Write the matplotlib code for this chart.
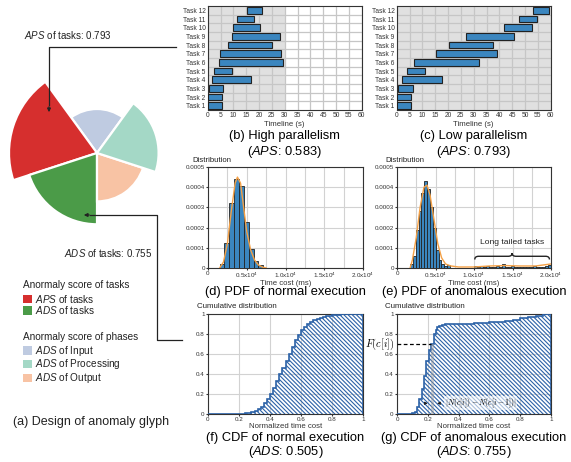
import numpy as np
import matplotlib
matplotlib.use('Agg')
import matplotlib.pyplot as plt
from matplotlib.patches import Wedge, Rectangle, PathPatch
from matplotlib.path import Path

plt.rcParams['font.family'] = ['Liberation Sans', 'DejaVu Sans']
plt.rcParams['mathtext.fontset'] = 'custom'
plt.rcParams['mathtext.rm'] = 'Liberation Sans'
plt.rcParams['mathtext.it'] = 'Liberation Sans:italic'
plt.rcParams['hatch.linewidth'] = 0.8

W, H = 571, 462

# anomaly glyph, sectors counter-clockwise starting at the top-right
glyph_parts = ['Input', 'APS of tasks', 'ADS of tasks', 'Output', 'Processing']
glyph_scores = [0.50, 1.00, 0.81, 0.55, 0.70]
glyph_colors = ['#bfcbe1', '#d62f2e', '#4b9b48', '#f8c3a4', '#a4d8c6']

# gantt charts
tasks = ['Task %d' % i for i in range(1, 13)]
high_start = [0, 0, 0.6, 1.7, 2.6, 4.5, 4.9, 7.8, 9.4, 10.0, 11.6, 15.2]
high_end = [5.5, 5.5, 6.1, 17.0, 9.5, 29.5, 28.7, 24.9, 28.3, 20.5, 17.9, 21.3]
low_start = [0, 0, 0.6, 2.2, 4.0, 6.9, 15.5, 20.3, 27.0, 41.9, 47.8, 53.2]
low_end = [5.6, 5.6, 6.2, 17.5, 11.2, 31.9, 39.1, 37.7, 45.8, 52.6, 54.5, 59.5]

# pdf histograms (ms, density)
norm_edges = [1500, 2125, 2750, 3375, 4000, 4625, 5250, 5875, 6500, 7125]
norm_hist = [0.00002, 0.000125, 0.00032, 0.00044, 0.000405, 0.00023, 0.000095, 0.000035, 0.000017]
norm_kde_x = [1500, 2000, 2500, 3000, 3500, 3800, 4200, 4600, 5000, 5500, 6000, 6500, 7000, 7500]
norm_kde_y = [0, 0.00003, 0.00012, 0.00028, 0.00042, 0.00045, 0.00042, 0.0003, 0.00018, 0.00009,
              0.00004, 0.000015, 0.000005, 0]

anom_edges = [1700, 2070, 2440, 2810, 3180, 3550, 3920, 4290, 4660, 5030, 5400, 5770, 6140, 6510, 6880]
anom_hist = [0.00002, 0.00006, 0.00019, 0.00028, 0.00037, 0.00043, 0.00039, 0.0003, 0.0002, 0.00009,
             0.00004, 0.00002, 0.000008, 0.000015]
tail_edges = [10000, 10400, 10800, 11200, 11600, 12000, 12400, 12800, 13200, 13600, 14000, 14400, 14800,
              15200, 15600, 16000, 16400, 16800, 17200, 17600, 18000, 18400, 18800, 19200, 19600, 20000]
tail_hist = [0.000008, 0.000006, 0.00001, 0.000005, 0.000008, 0.000004, 0.000006, 0.000009, 0.000005,
             0.000018, 0.000007, 0.000005, 0.000008, 0.000006, 0.000004, 0.000007, 0.000005, 0.000006,
             0.000004, 0.000008, 0.000006, 0.000005, 0.000007, 0.00001, 0.000015]
anom_kde_x = [1700, 2000, 2500, 3000, 3500, 3900, 4300, 4800, 5300, 5800, 6300, 7000, 8000, 10000,
              12000, 14000, 16000, 18000, 20000]
anom_kde_y = [0, 0.00004, 0.00015, 0.0003, 0.0004, 0.00041, 0.00036, 0.00024, 0.00012, 0.00005,
              0.00002, 0.00001, 0.000005, 0.000005, 0.00001, 0.000012, 0.00001, 0.00001, 0.00002]

# cdf steps (normalized time cost, cumulative share)
norm_cdf_edges = [0.0, 0.20, 0.22, 0.24, 0.26, 0.28, 0.30, 0.32, 0.34, 0.36, 0.38, 0.40, 0.42, 0.44,
                  0.46, 0.48, 0.50, 0.52, 0.54, 0.56, 0.58, 0.60, 0.62, 0.64, 0.66, 0.68, 0.70, 0.72,
                  0.74, 0.76, 0.78, 0.80, 0.82, 0.84, 0.86, 0.88, 0.90, 0.92, 0.94, 0.96, 0.98, 1.0]
norm_cdf = [0, 0.002, 0.004, 0.008, 0.015, 0.022, 0.035, 0.05, 0.07, 0.11, 0.15, 0.20, 0.26, 0.33,
            0.40, 0.46, 0.53, 0.60, 0.67, 0.74, 0.79, 0.84, 0.87, 0.90, 0.92, 0.94, 0.955, 0.965,
            0.973, 0.98, 0.985, 0.99, 0.993, 0.995, 0.997, 0.998, 0.999, 1.0, 1.0, 1.0, 1.0]
anom_cdf_edges = [0, 0.10, 0.115, 0.13, 0.145, 0.16, 0.175, 0.19, 0.205, 0.22, 0.24, 0.25, 0.26, 0.275,
                  0.29, 0.31, 0.35, 0.40, 0.45, 0.50, 0.55, 0.60, 0.65, 0.70, 0.75, 0.80, 0.85, 0.90,
                  0.95, 1.0]
anom_cdf = [0, 0.01, 0.02, 0.07, 0.15, 0.25, 0.38, 0.53, 0.64, 0.70, 0.80, 0.84, 0.87, 0.885, 0.893,
            0.897, 0.90, 0.902, 0.905, 0.91, 0.915, 0.92, 0.925, 0.935, 0.945, 0.96, 0.97, 0.985, 1.0]

BLUE = '#3b86bf'
DARK = '#222222'
GRID = '#d2d2d2'

fig = plt.figure(figsize=(W / 100, H / 100), dpi=100)


def axes_px(l, t, r, b):
    return fig.add_axes([l / W, 1 - b / H, (r - l) / W, (b - t) / H])


def ftext(x, y, s, **kw):
    fig.text(x / W, 1 - y / H, s, **kw)


def frame(ax):
    for sp in ax.spines.values():
        sp.set_color('#333333')
        sp.set_linewidth(0.8)


# overlay in pixel coordinates for the glyph and its annotations
ov = fig.add_axes([0, 0, 1, 1])
ov.set_xlim(0, W)
ov.set_ylim(H, 0)
ov.axis('off')

cx, cy, R = 97, 153, 88
for i, (s, c) in enumerate(zip(glyph_scores, glyph_colors)):
    a1 = 54 + 72 * i
    ov.add_patch(Wedge((cx, cy), R * s, -(a1 + 72), -a1, facecolor=c, edgecolor='white', lw=1.6))

ov.plot([176, 49, 49], [47, 47, 105], color=DARK, lw=0.9)
ov.annotate('', xy=(49, 115), xytext=(49, 104),
            arrowprops=dict(arrowstyle='-|>', color=DARK, lw=0.9, mutation_scale=5))
ov.text(24, 35, r'$\mathit{APS}$ of tasks: 0.793', fontsize=7, va='center', color='#222')

ov.plot([182, 157, 157, 90], [340, 340, 215, 215], color=DARK, lw=0.9)
ov.annotate('', xy=(81, 215), xytext=(92, 215),
            arrowprops=dict(arrowstyle='-|>', color=DARK, lw=0.9, mutation_scale=5))
ov.text(152, 253, r'$\mathit{ADS}$ of tasks: 0.755', fontsize=7, va='center', ha='right', color='#222')

# legend
ov.text(23, 284.5, 'Anormaly score of tasks', fontsize=7.2, va='center', color='#222')
ov.text(23, 336.5, 'Anormaly score of phases', fontsize=7.2, va='center', color='#222')
legend_rows = [(glyph_colors[1], r'$\mathit{APS}$ of tasks', 299),
               (glyph_colors[2], r'$\mathit{ADS}$ of tasks', 310.5),
               (glyph_colors[0], r'$\mathit{ADS}$ of Input', 350.5),
               (glyph_colors[4], r'$\mathit{ADS}$ of Processing', 364),
               (glyph_colors[3], r'$\mathit{ADS}$ of Output', 378)]
for col, lab, y in legend_rows:
    ov.add_patch(Rectangle((23, y - 4.3), 9, 8.6, facecolor=col, edgecolor='none'))
    ov.text(35, y, lab, fontsize=7.2, va='center', color='#222')
ov.text(13, 421.5, '(a) Design of anomaly glyph', fontsize=9, va='center', color='#222')


def gantt(ax, starts, ends, shade_to):
    ax.axvspan(0, shade_to, color='#e0e0e0', zorder=0.1, lw=0)
    ax.barh(range(1, 13), np.array(ends) - np.array(starts), left=starts, height=0.8,
            color=BLUE, edgecolor=DARK, lw=0.8, zorder=3)
    ax.set_xlim(0, 60)
    ax.set_ylim(0.5, 12.5)
    ax.set_xticks(range(0, 61, 5))
    ax.set_yticks(range(1, 13))
    ax.set_yticklabels(tasks)
    ax.set_yticks(np.arange(1.5, 12, 1), minor=True)
    ax.set_axisbelow(True)
    ax.grid(True, axis='x', which='major', color='#c6c6c6', lw=0.9)
    ax.grid(True, axis='y', which='minor', color='#c6c6c6', lw=0.9)
    ax.tick_params(which='both', length=0, labelsize=4.8, pad=1.5, colors='#333')
    ax.set_xlabel('Timeline (s)', fontsize=5.6, labelpad=1.5, color='#333')
    frame(ax)


ax_b = axes_px(207.7, 6, 361.7, 110)
gantt(ax_b, high_start, high_end, 30)
ax_c = axes_px(396.7, 6, 550.7, 110)
gantt(ax_c, low_start, low_end, 60)

ftext(284.7, 136, '(b) High parallelism', fontsize=9.3, ha='center', va='center')
ftext(284.7, 152, r'($\mathit{APS}$: 0.583)', fontsize=9.3, ha='center', va='center')
ftext(473.7, 136, '(c) Low parallelism', fontsize=9.3, ha='center', va='center')
ftext(473.7, 152, r'($\mathit{APS}$: 0.793)', fontsize=9.3, ha='center', va='center')


def pdf(ax, edges, heights, kx, ky):
    ax.bar(edges[:-1], heights, width=np.diff(edges), align='edge', color=BLUE,
           edgecolor=DARK, lw=0.6, zorder=3)
    ax.plot(kx, ky, color='#f4a147', lw=1.0, zorder=4)
    ax.set_xlim(0, 20000)
    ax.set_ylim(0, 0.0005)
    ax.set_xticks([0, 5000, 10000, 15000, 20000])
    ax.set_xticklabels(['0', r'0.5x10$^4$', r'1.0x10$^4$', r'1.5x10$^4$', r'2.0x10$^4$'])
    ax.set_xticks([2500, 7500, 12500, 17500], minor=True)
    ax.set_yticks([0, 0.0001, 0.0002, 0.0003, 0.0004, 0.0005])
    ax.set_yticklabels(['0', '0.0001', '0.0002', '0.0003', '0.0004', '0.0005'])
    ax.set_axisbelow(True)
    ax.grid(True, which='both', color=GRID, lw=0.8)
    ax.tick_params(which='both', length=1.5, labelsize=4.5, pad=0.5, colors='#333')
    ax.tick_params(which='minor', length=0)
    ax.set_xlabel('Time cost (ms)', fontsize=5.6, labelpad=0, color='#333')
    frame(ax)


ax_d = axes_px(208, 167, 363, 268)
pdf(ax_d, norm_edges, norm_hist, norm_kde_x, norm_kde_y)
ax_e = axes_px(397, 167, 551, 268)
pdf(ax_e, anom_edges, anom_hist, anom_kde_x, anom_kde_y)
ax_e.bar(tail_edges[:-1], tail_hist, width=np.diff(tail_edges), align='edge', color=BLUE,
         edgecolor=DARK, lw=0.6, zorder=3)

# curly brace over the long tail
bx0, bx1, by, bh = 10100, 19800, 0.000042, 0.000032
bm = (bx0 + bx1) / 2
q = 500
verts = [(bx0, by), (bx0, by + bh / 2), (bx0 + q, by + bh / 2),
         (bm - q, by + bh / 2), (bm, by + bh / 2), (bm, by + bh),
         (bm, by + bh / 2), (bm + q, by + bh / 2),
         (bx1 - q, by + bh / 2), (bx1, by + bh / 2), (bx1, by)]
codes = [Path.MOVETO, Path.CURVE3, Path.CURVE3, Path.LINETO, Path.CURVE3, Path.CURVE3,
         Path.CURVE3, Path.CURVE3, Path.LINETO, Path.CURVE3, Path.CURVE3]
ax_e.add_patch(PathPatch(Path(verts, codes), facecolor='none', edgecolor=DARK, lw=1.0, zorder=5))
ax_e.text(bm, 0.000125, 'Long tailed tasks', fontsize=6.1, ha='center', va='center', color='#222')

ftext(212, 160, 'Distribution', fontsize=5.6, ha='center', va='center', color='#222')
ftext(405, 160, 'Distribution', fontsize=5.6, ha='center', va='center', color='#222')
ftext(285.5, 292, '(d) PDF of normal execution', fontsize=9.3, ha='center', va='center')
ftext(474, 292, '(e) PDF of anomalous execution', fontsize=9.3, ha='center', va='center')


def cdf(ax, edges, vals):
    ax.stairs(vals, edges, fill=True, facecolor='none', edgecolor='#2c62a7',
              hatch='\\\\\\\\\\\\\\\\', lw=1.2, zorder=3)
    ax.set_xlim(0, 1)
    ax.set_ylim(0, 1)
    ticks = [0, 0.2, 0.4, 0.6, 0.8, 1]
    labs = ['0', '0.2', '0.4', '0.6', '0.8', '1']
    ax.set_xticks(ticks)
    ax.set_xticklabels(labs)
    ax.set_yticks(ticks)
    ax.set_yticklabels(labs)
    ax.set_axisbelow(True)
    ax.grid(True, color=GRID, lw=0.8)
    ax.tick_params(length=1.5, labelsize=4.5, pad=1, colors='#333')
    ax.set_xlabel('Normalized time cost', fontsize=5.6, labelpad=0.5, color='#333')
    frame(ax)


ax_f = axes_px(208, 314, 363, 414)
cdf(ax_f, norm_cdf_edges, norm_cdf)
ax_g = axes_px(397, 314, 551, 414)
cdf(ax_g, anom_cdf_edges, anom_cdf)

# annotation of one step in (g)
ax_g.axvspan(0.22, 0.24, ymax=0.70, color='#9a9a9a', alpha=0.45, lw=0, zorder=4)
ax_g.plot([0, 0.22], [0.70, 0.70], color='black', lw=0.9, ls=(0, (3, 2)), zorder=5)
ax_g.annotate('', xy=(0.218, 0.107), xytext=(0.165, 0.107),
              arrowprops=dict(arrowstyle='-|>', color=DARK, lw=0.7, mutation_scale=4), zorder=5)
ax_g.annotate('', xy=(0.242, 0.107), xytext=(0.295, 0.107),
              arrowprops=dict(arrowstyle='-|>', color=DARK, lw=0.7, mutation_scale=4), zorder=5)
ax_g.text(0.31, 0.107, r'$|N(c[i])-N(c[i-1])|$', fontsize=5.6, va='center', ha='left',
          math_fontfamily='cm', zorder=6,
          bbox=dict(facecolor='white', edgecolor='none', alpha=0.6, pad=0.3))
ftext(395, 344, r'$F(c[i])$', fontsize=7.5, ha='right', va='center', math_fontfamily='cm')

ftext(197, 307, 'Cumulative distribution', fontsize=5.7, ha='left', va='center', color='#222')
ftext(385, 307, 'Cumulative distribution', fontsize=5.7, ha='left', va='center', color='#222')
ftext(285.5, 437.5, '(f) CDF of normal execution', fontsize=9.3, ha='center', va='center')
ftext(285.5, 452, r'($\mathit{ADS}$: 0.505)', fontsize=9.3, ha='center', va='center')
ftext(474, 437.5, '(g) CDF of anomalous execution', fontsize=9.3, ha='center', va='center')
ftext(474, 452, r'($\mathit{ADS}$: 0.755)', fontsize=9.3, ha='center', va='center')

fig.savefig('out.png', dpi=100)
